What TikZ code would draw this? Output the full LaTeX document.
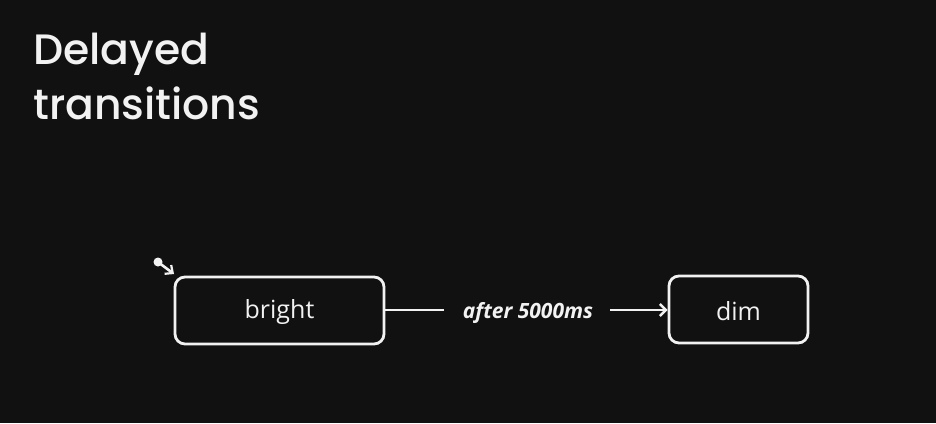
\documentclass[tikz,border=0pt]{standalone}
\usepackage{fontspec}
\setmainfont{Open Sans}
\newfontfamily\titlefont{Poppins}[UprightFont={* Medium}]
\usetikzlibrary{arrows.meta}
\definecolor{bg}{HTML}{111111}
\definecolor{fg}{HTML}{F2F2F2}
\tikzset{
  statebox/.style={draw=fg, line width=2.8pt, rounded corners=10pt, text=fg, font=\fontsize{25}{28}\selectfont, inner sep=0pt, text depth=0pt},
  conn/.style={draw=fg, line width=2.6pt},
}
\begin{document}
\begin{tikzpicture}[x=1pt,y=-1pt]
\fill[bg] (0,0) rectangle (936,423);
\useasboundingbox (0,0) rectangle (936,423);
\node[anchor=north west, text=fg, font=\titlefont\fontsize{42.5}{55}\selectfont, align=left, inner sep=0pt] (title) at (33,33) {Delayed\\transitions};
\node[statebox, minimum width=209pt, minimum height=67pt, text height=16pt] (bright) at (279.5,310.5) {bright};
\node[statebox, minimum width=139pt, minimum height=67pt, text height=21pt] (dim) at (738.5,309.5) {dim};
\node[anchor=base, text=fg, font=\bfseries\itshape\fontsize{21}{24}\selectfont, inner sep=0pt] (lbl) at (528,318) {after 5000ms};
\coordinate (l1) at (444,310);
\coordinate (l2) at (610,310);
\draw[conn] (bright.east |- l1) -- (l1);
\draw[conn, -{Straight Barb[length=6pt,width=12pt,line width=2.4pt]}] (l2) -- (dim.west |- l2);
\fill[fg] (158,262) circle (4.5pt) coordinate (init);
\coordinate (initend) at (174,274);
\draw[conn, -{Straight Barb[length=6pt,width=11pt,line width=2.2pt]}] (init) -- (initend);
\end{tikzpicture}
\end{document}
